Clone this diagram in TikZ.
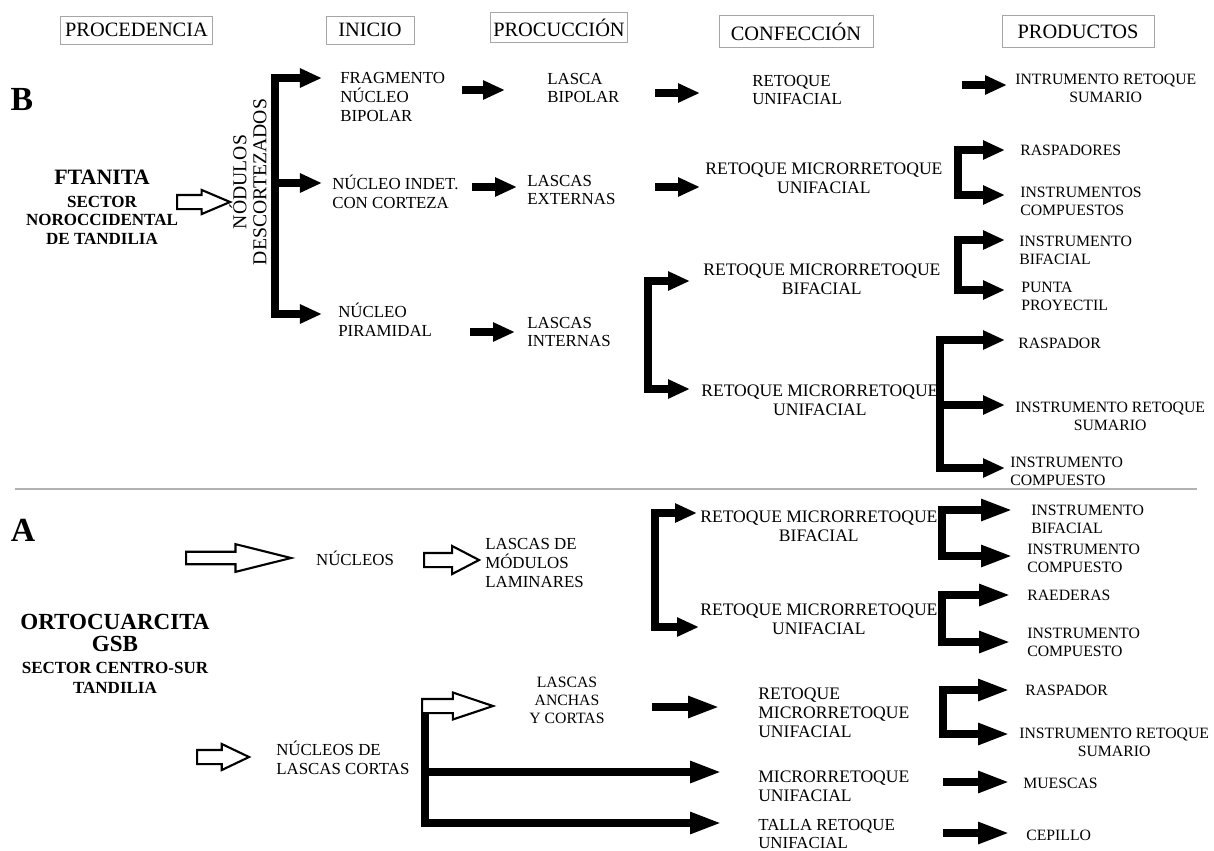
\documentclass[tikz,border=0pt]{standalone}
\usepackage{fontspec}
\setmainfont{Liberation Serif}
\usepackage{tikz}
\usetikzlibrary{arrows.meta,calc,shapes.arrows}
\newcommand{\fatWidth}{0.2cm}

\begin{document}
\begin{tikzpicture}[x=0.025cm,y=-0.025cm,
	txt/.style={inner sep=0pt,align=left,anchor=west,font=\fontsize{12}{13.2}\selectfont},
	prod/.style={inner sep=0pt,align=left,anchor=west,font=\fontsize{11.2}{12.8}\selectfont},
	ret/.style={inner sep=0pt,align=center,anchor=west,font=\fontsize{12.5}{13.4}\selectfont},
	head/.style={draw=black!35,line width=0.7pt,inner sep=0pt,font=\fontsize{14.5}{16}\selectfont},
	bigbf/.style={inner sep=0pt,align=center,font=\fontsize{24}{24}\selectfont\bfseries},
	fat/.style={line width=\fatWidth,-{Triangle[length=0.55cm,width=0.45cm]}},
	fatlong/.style={line width=\fatWidth,line join=miter,-{Triangle[length=0.8cm,width=0.5cm]}},
	brk/.style={line width=\fatWidth,line join=miter,{Triangle[length=0.55cm,width=0.45cm]}-{Triangle[length=0.55cm,width=0.45cm]}},
	brklong/.style={line width=\fatWidth,line join=miter,{Triangle[length=0.8cm,width=0.5cm]}-{Triangle[length=0.8cm,width=0.5cm]}},
	hollow/.style={single arrow,draw=black,line width=1.5pt,fill=white,anchor=tail,inner xsep=0pt,text height=0pt,text depth=0pt,minimum width=0pt,single arrow head indent=0pt}]

	\useasboundingbox[fill=white] (0,0) rectangle (1214,850);

	% column heads
	\node[head,minimum width=3.775cm,minimum height=0.7cm] (hProc) at (136.5,30) {PROCEDENCIA};
	\node[head,minimum width=2.2cm,minimum height=0.7cm] (hIni) at (370,30) {INICIO};
	\node[head,minimum width=3.4cm,minimum height=0.73cm] (hProd) at (559,27.5) {PROCUCCIÓN};
	\node[head,minimum width=3.85cm,minimum height=0.78cm] (hConf) at (796,31.5) {CONFECCIÓN};
	\node[head,minimum width=3.8cm,minimum height=0.78cm] (hProds) at (1078,31.5) {PRODUCTOS};

	% B
	\node[bigbf] (labB) at (22,99) {B};
	\node[bigbf,font=\fontsize{15.6}{16}\selectfont\bfseries] (ftanita) at (102,177) {FTANITA};
	\node[bigbf,font=\fontsize{12.1}{13.2}\selectfont\bfseries] (sectB) at (102,220) {SECTOR\\NOROCCIDENTAL\\DE TANDILIA};
	\node[hollow,minimum height=1.325cm,inner ysep=0.15cm,single arrow head extend=0.125cm,single arrow tip angle=46] (hB) at (176,202) {};
	\node[rotate=90,align=center,inner sep=0pt,font=\fontsize{14}{14.2}\selectfont] (nodulos) at (248,182) {NÓDULOS\\DESCORTEZADOS};

	\node[txt] (frag) at (340,97) {FRAGMENTO\\NÚCLEO\\BIPOLAR};
	\node[txt] (nind) at (332,192) {NÚCLEO INDET.\\CON CORTEZA};
	\node[txt] (npir) at (338,320) {NÚCLEO\\PIRAMIDAL};

	\node[txt] (lascaB) at (547,88) {LASCA\\BIPOLAR};
	\node[txt] (lascE) at (527,190) {LASCAS\\EXTERNAS};
	\node[txt] (lascI) at (527,332) {LASCAS\\INTERNAS};

	\node[txt] (retB1) at (752,90) {RETOQUE\\UNIFACIAL};
	\node[ret] (retB2) at (705,178) {RETOQUE MICRORRETOQUE\\UNIFACIAL};
	\node[ret] (retB3) at (703,279) {RETOQUE MICRORRETOQUE\\BIFACIAL};
	\node[ret] (retB4) at (701,400) {RETOQUE MICRORRETOQUE\\UNIFACIAL};

	\node[prod,align=center] (instB1) at (1015,88) {INTRUMENTO RETOQUE\\SUMARIO};
	\node[prod] (rasp) at (1020,150) {RASPADORES};
	\node[prod] (instC) at (1020,201) {INSTRUMENTOS\\COMPUESTOS};
	\node[prod] (instBif) at (1019,250) {INSTRUMENTO\\BIFACIAL};
	\node[prod] (punta) at (1021,296) {PUNTA\\PROYECTIL};
	\node[prod] (rasp2) at (1018,343) {RASPADOR};
	\node[prod,align=center] (instRS) at (1015,416) {INSTRUMENTO RETOQUE\\SUMARIO};
	\node[prod] (instCB) at (1010,471) {INSTRUMENTO\\COMPUESTO};

	\coordinate (sB) at (275,0);
	\coordinate (sI) at (648,0);
	\coordinate (sE) at (958,0);
	\coordinate (sU) at (940,0);

	\coordinate (tFrag) at ($(frag.west)+(-18,-19)$);
	\coordinate (tNind) at ($(nind.west)+(-10,-9)$);
	\coordinate (tNpir) at ($(npir.west)+(-16,-6)$);
	\coordinate (tRasp) at ($(rasp.west)+(-15,0)$);
	\coordinate (tInstC) at ($(instC.west)+(-15,-6)$);
	\coordinate (tRetB3) at ($(retB3.west)+(-13,2)$);
	\coordinate (tRetB4) at ($(retB4.west)+(-11,-11)$);
	\coordinate (tBif) at ($(instBif.west)+(-14,-10)$);
	\coordinate (tPunta) at ($(punta.west)+(-16,-6)$);
	\coordinate (tRasp2) at ($(rasp2.west)+(-13,-3)$);
	\coordinate (tInstRS) at ($(instRS.west)+(-10,-11)$);
	\coordinate (tInstCB) at ($(instCB.west)+(-5,-3)$);

	\draw[brk] (tFrag) -- (tFrag -| sB) -- (tNpir -| sB) -- (tNpir);
	\draw[fat] (tNind -| sB) -- (tNind);

	\draw[fat] ($(lascaB.west)+(-85,2)$) -- ($(lascaB.west)+(-42,2)$);
	\draw[fat] ($(retB1.west)+(-97,3)$) -- ($(retB1.west)+(-52,3)$);
	\draw[fat] ($(instB1.west)+(-53,-3)$) -- ($(instB1.west)+(-8,-3)$);
	\draw[fat] ($(lascE.west)+(-55,-3)$) -- ($(lascE.west)+(-10,-3)$);
	\draw[fat] ($(retB2.west)+(-50,9)$) -- ($(retB2.west)+(-5,9)$);
	\draw[fat] ($(lascI.west)+(-57,0)$) -- ($(lascI.west)+(-12,0)$);

	\draw[brk] (tRasp) -- (tRasp -| sE) -- (tInstC -| sE) -- (tInstC);
	\draw[brk] (tRetB3) -- (tRetB3 -| sI) -- (tRetB4 -| sI) -- (tRetB4);
	\draw[brk] (tBif) -- (tBif -| sE) -- (tPunta -| sE) -- (tPunta);
	\draw[brk] (tRasp2) -- (tRasp2 -| sU) -- (tInstCB -| sU) -- (tInstCB);
	\draw[fat] (tInstRS -| sU) -- (tInstRS);

	\draw[black!30,line width=1pt] (15,489) coordinate (sepL) -- (1197,489) coordinate (sepR);

	% A
	\node[bigbf] (labA) at (23,530) {A};
	\node[bigbf,font=\fontsize{16.4}{15.6}\selectfont\bfseries] (orto) at (115,633) {ORTOCUARCITA\\GSB};
	\node[bigbf,font=\fontsize{12.1}{14.2}\selectfont\bfseries] (sectA) at (115,678) {SECTOR CENTRO-SUR\\TANDILIA};

	\node[hollow,minimum height=2.625cm,inner ysep=0.13cm,single arrow head extend=0.19cm,single arrow tip angle=28] (hA1) at (185,558) {};
	\node[txt,anchor=center] (nuc) at (355,558) {NÚCLEOS};
	\node[hollow,minimum height=1.375cm,inner ysep=0.15cm,single arrow head extend=0.175cm,single arrow tip angle=55] (hA2) at (423,560) {};
	\node[txt] (lasM) at (485,563) {LASCAS DE\\MÓDULOS\\LAMINARES};

	\node[ret] (retA1) at (700,526) {RETOQUE MICRORRETOQUE\\BIFACIAL};
	\node[ret] (retA2) at (700,619) {RETOQUE MICRORRETOQUE\\UNIFACIAL};
	\node[prod] (instA1) at (1031,519) {INSTRUMENTO\\BIFACIAL};
	\node[prod] (instA2) at (1027,558) {INSTRUMENTO\\COMPUESTO};
	\node[prod] (raed) at (1027,595) {RAEDERAS};
	\node[prod] (instA3) at (1027,642) {INSTRUMENTO\\COMPUESTO};

	\coordinate (sM) at (655,0);
	\coordinate (sP) at (942,0);
	\coordinate (tRetA1) at ($(retA1.west)+(-3,-13)$);
	\coordinate (tRetA2) at ($(retA2.west)+(-1,8)$);
	\coordinate (tInstA1) at ($(instA1.west)+(-18,-9)$);
	\coordinate (tInstA2) at ($(instA2.west)+(-14,-2)$);
	\coordinate (tRaed) at ($(raed.west)+(-16,0)$);
	\coordinate (tInstA3) at ($(instA3.west)+(-16,0)$);

	\draw[brk] (tRetA1) -- (tRetA1 -| sM) -- (tRetA2 -| sM) -- (tRetA2);
	\draw[brklong] (tInstA1) -- (tInstA1 -| sP) -- (tInstA2 -| sP) -- (tInstA2);
	\draw[brklong] (tRaed) -- (tRaed -| sP) -- (tInstA3 -| sP) -- (tInstA3);

	\node[hollow,minimum height=1.3cm,inner ysep=0.15cm,single arrow head extend=0.15cm,single arrow tip angle=51] (hA3) at (196,757) {};
	\node[txt] (ncor) at (276,758) {NÚCLEOS DE\\LASCAS CORTAS};

	\node[prod,align=center,anchor=center] (lac) at (567,700) {LASCAS\\ANCHAS\\Y CORTAS};
	\node[ret,align=left] (retA3) at (758,713) {RETOQUE\\MICRORRETOQUE\\UNIFACIAL};
	\node[ret,align=left] (mic) at (758,786) {MICRORRETOQUE\\UNIFACIAL};
	\node[txt] (talla) at (758,834) {TALLA RETOQUE\\UNIFACIAL};

	\coordinate (sA) at (424.5,708);
	\coordinate (tMic) at ($(mic.west)+(-36,-14)$);
	\coordinate (tTalla) at ($(talla.west)+(-36,-11)$);
	\draw[fatlong] (sA) |- (tTalla);
	\draw[fatlong] (tMic -| sA) -- (tMic);
	\node[hollow,minimum height=1.775cm,inner ysep=0.15cm,single arrow head extend=0.16cm,single arrow tip angle=37] (hA4) at (421,706) {};
	\draw[fatlong] ($(retA3.west)+(-106,-6)$) -- ($(retA3.west)+(-38,-6)$);

	\node[prod] (rasA) at (1025,690) {RASPADOR};
	\node[prod,align=center] (instA4) at (1019,742) {INSTRUMENTO RETOQUE\\SUMARIO};
	\node[prod] (mues) at (1023,783) {MUESCAS};
	\node[prod] (cep) at (1026,835) {CEPILLO};

	\coordinate (sR) at (943,0);
	\coordinate (tRasA) at ($(rasA.west)+(-15,0)$);
	\coordinate (tInstA4) at ($(instA4.west)+(-9,-8)$);
	\draw[brklong] (tRasA) -- (tRasA -| sR) -- (tInstA4 -| sR) -- (tInstA4);
	\draw[fatlong] ($(mues.west)+(-80,-1)$) -- ($(mues.west)+(-13,-1)$);
	\draw[fatlong] ($(cep.west)+(-83,-2)$) -- ($(cep.west)+(-16,-2)$);
\end{tikzpicture}
\end{document}
